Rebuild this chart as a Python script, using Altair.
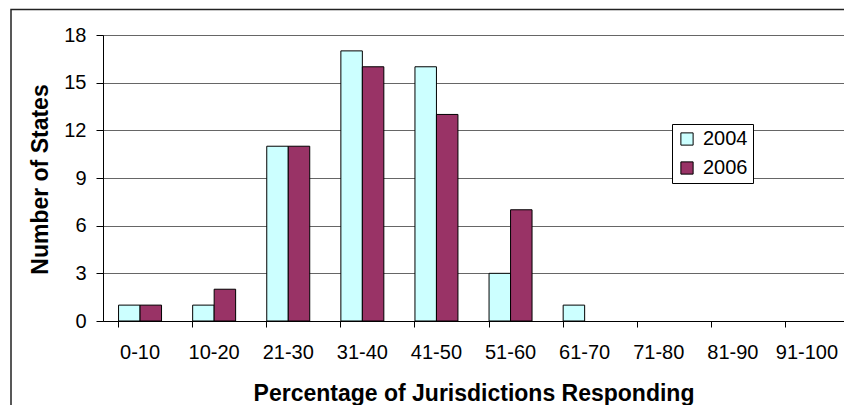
import altair as alt
import pandas as pd

categories = ["0-10", "10-20", "21-30", "31-40", "41-50", "51-60", "61-70", "71-80", "81-90", "91-100"]
series_2004 = [1, 1, 11, 17, 16, 3, 1, 0, 0, 0]
series_2006 = [1, 2, 11, 16, 13, 7, 0, 0, 0, 0]
years = ["2004", "2006"]
colors = ["#CCFFFF", "#993366"]
y_ticks = [0, 3, 6, 9, 12, 15, 18]

rows = []
for i, c in enumerate(categories):
    rows.append({"range": c, "year": "2004", "count": series_2004[i]})
    rows.append({"range": c, "year": "2006", "count": series_2006[i]})
df = pd.DataFrame(rows)

FONT = "Liberation Sans"

bars = alt.Chart(df).mark_bar(stroke="black", strokeWidth=1).encode(
    x=alt.X(
        "range:N", sort=categories,
        scale=alt.Scale(domain=categories, paddingInner=0.42, paddingOuter=0.21),
        axis=alt.Axis(
            title="Percentage of Jurisdictions Responding",
            labelAngle=0, bandPosition=0, ticks=True, tickSize=6,
            tickColor="black", domainColor="black", grid=False,
            labelFont=FONT, labelFontSize=20, labelPadding=15, labelColor="black",
            titleFont=FONT, titleFontSize=23, titleFontWeight="bold", titleColor="black",
            titleBaseline="alphabetic", titleY=79,
        ),
    ),
    xOffset=alt.XOffset("year:N", sort=years, scale=alt.Scale(domain=years, paddingInner=0, paddingOuter=0)),
    y=alt.Y(
        "count:Q",
        scale=alt.Scale(domain=[0, 18], nice=False),
        axis=alt.Axis(
            title="Number of States", values=y_ticks, tickSize=7,
            tickColor="black", domainColor="black",
            grid=True, gridColor="#666666", gridWidth=1,
            labelFont=FONT, labelFontSize=20, labelPadding=10, labelColor="black",
            titleFont=FONT, titleFontSize=23, titleFontWeight="bold", titleColor="black",
            titleBaseline="alphabetic", titleX=-56, titleY=144,
        ),
    ),
    color=alt.Color(
        "year:N",
        scale=alt.Scale(domain=years, range=colors),
        legend=alt.Legend(
            title=None, orient="none", legendX=569, legendY=89,
            symbolType="square", symbolSize=150, symbolStrokeColor="black",
            symbolStrokeWidth=1, labelFont=FONT, labelFontSize=20, labelColor="black",
            labelOffset=6, rowPadding=9, padding=5,
            strokeColor="black", fillColor="white",
        ),
    ),
).transform_filter(alt.datum.count > 0)

border = alt.Chart(pd.DataFrame({"a": [0]})).mark_rect(
    fill="transparent", stroke="#222222", strokeWidth=1.5
).encode(
    x=alt.value(-92), x2=alt.value(900), y=alt.value(-25.5), y2=alt.value(500)
)

chart = alt.layer(border, bars).properties(
    width=741, height=286,
    autosize=alt.AutoSizeParams(type="none"),
    padding={"left": 95, "top": 27, "right": 0, "bottom": 84},
).configure_view(stroke="#999999")

chart.save("out.html", embed_options={"renderer": "svg", "actions": False})
